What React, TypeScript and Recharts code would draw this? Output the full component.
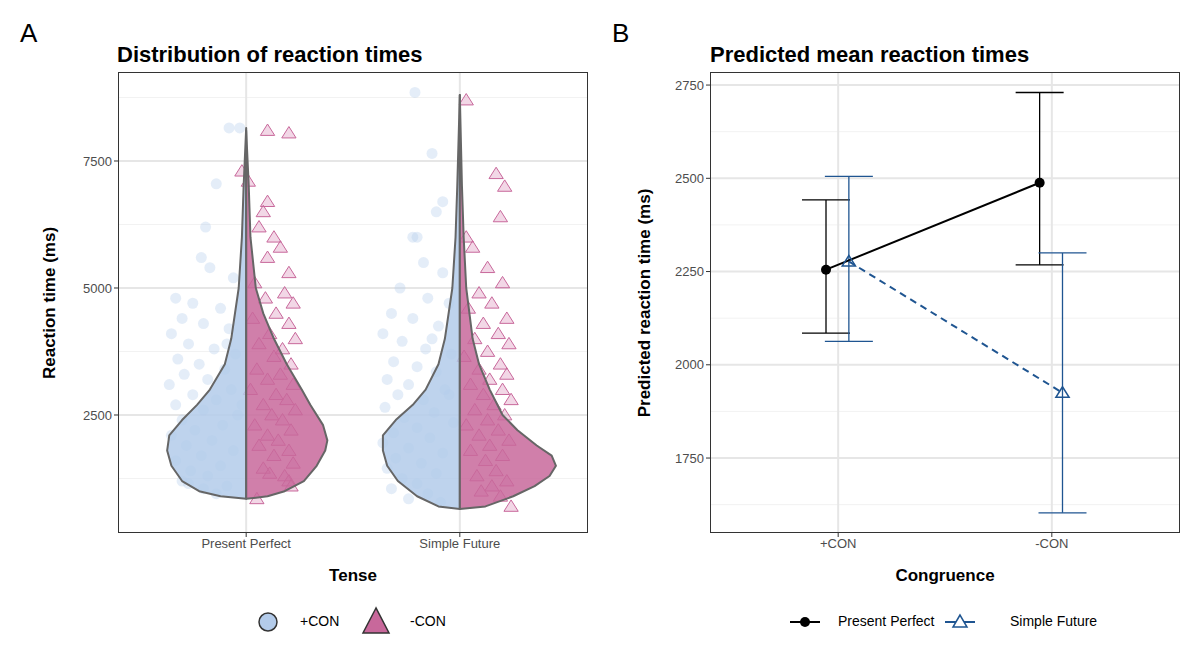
import React from 'react'
import { ComposedChart, Scatter, XAxis, YAxis, ReferenceLine, ErrorBar } from 'recharts'

const tenses = ['Present Perfect', 'Simple Future']
const congruence = ['+CON', '-CON']
const rtTicks = [2500, 5000, 7500]
const rtMinor = [1250, 3750, 6250, 8750]
const predTicks = [1750, 2000, 2250, 2500, 2750]
const predMinor = [1625, 1875, 2125, 2375, 2625]

// violin half-widths (category units) by reaction time
const ppCon = [[850, 0], [900, 0.12], [1000, 0.22], [1200, 0.3], [1500, 0.35], [1800, 0.37], [2100, 0.36], [2400, 0.3], [2700, 0.23], [3000, 0.17], [3500, 0.1], [4000, 0.07], [5000, 0.035], [6000, 0.02], [7000, 0.012], [8150, 0]]
const ppNoCon = [[850, 0], [900, 0.1], [1000, 0.18], [1200, 0.27], [1500, 0.33], [1800, 0.37], [2000, 0.38], [2300, 0.36], [2700, 0.3], [3000, 0.26], [3500, 0.19], [4000, 0.13], [4500, 0.08], [5000, 0.045], [6000, 0.02], [7000, 0.012], [8100, 0]]
const sfCon = [[650, 0], [700, 0.1], [900, 0.2], [1200, 0.29], [1500, 0.34], [1800, 0.36], [2100, 0.36], [2400, 0.3], [2700, 0.22], [3000, 0.16], [3500, 0.1], [4000, 0.07], [5000, 0.035], [6000, 0.02], [7000, 0.012], [8800, 0]]
const sfNoCon = [[650, 0], [700, 0.12], [900, 0.25], [1100, 0.35], [1300, 0.42], [1500, 0.45], [1700, 0.43], [1900, 0.36], [2200, 0.27], [2500, 0.2], [3000, 0.14], [3500, 0.09], [4000, 0.06], [5000, 0.03], [6000, 0.018], [7000, 0.01], [8800, 0]]

// jittered raw points: [offset from tense centre, reaction time]
const ppConPts = [[-0.08, 8150], [-0.03, 8150], [-0.14, 7050], [-0.19, 6200], [-0.21, 5600], [-0.17, 5400], [-0.06, 5200], [-0.33, 4800], [-0.25, 4700], [-0.12, 4600], [-0.3, 4400], [-0.2, 4300], [-0.08, 4200], [-0.35, 4100], [-0.27, 3900], [-0.15, 3800], [-0.05, 3700], [-0.32, 3600], [-0.22, 3500], [-0.1, 3400], [-0.29, 3300], [-0.18, 3200], [-0.36, 3100], [-0.07, 3000], [-0.25, 2900], [-0.14, 2800], [-0.33, 2700], [-0.2, 2600], [-0.04, 2500], [-0.3, 2400], [-0.11, 2300], [-0.24, 2200], [-0.35, 2100], [-0.16, 2000], [-0.28, 1900], [-0.06, 1800], [-0.21, 1700], [-0.33, 1600], [-0.12, 1500], [-0.26, 1400], [-0.18, 1300], [-0.3, 1200], [-0.09, 1100], [-0.2, 1050], [-0.14, 950], [-0.27, 1150], [-0.02, 2700], [-0.09, 3900]]
const ppNoConPts = [[0.1, 8100], [0.2, 8050], [-0.02, 7300], [0.01, 7100], [0.1, 6700], [0.08, 6500], [0.06, 6200], [0.13, 6000], [0.16, 5800], [0.1, 5600], [0.2, 5300], [0.04, 5100], [0.18, 4900], [0.09, 4800], [0.22, 4700], [0.14, 4500], [0.03, 4400], [0.2, 4300], [0.11, 4100], [0.23, 4000], [0.06, 3900], [0.17, 3800], [0.13, 3650], [0.21, 3500], [0.05, 3400], [0.16, 3300], [0.1, 3200], [0.22, 3100], [0.02, 3000], [0.14, 2900], [0.19, 2800], [0.08, 2700], [0.23, 2600], [0.12, 2500], [0.17, 2400], [0.04, 2300], [0.21, 2200], [0.1, 2100], [0.15, 2000], [0.06, 1900], [0.2, 1800], [0.13, 1700], [0.22, 1550], [0.08, 1450], [0.18, 1300], [0.2, 1200], [0.21, 1100], [0.11, 1350], [0.05, 850]]
const sfConPts = [[-0.21, 8850], [-0.13, 7650], [-0.08, 6700], [-0.11, 6500], [-0.22, 6000], [-0.2, 6000], [-0.17, 5500], [-0.08, 5300], [-0.28, 5000], [-0.15, 4800], [-0.05, 4700], [-0.32, 4500], [-0.22, 4400], [-0.1, 4250], [-0.36, 4100], [-0.27, 3950], [-0.16, 3800], [-0.04, 3700], [-0.31, 3550], [-0.2, 3450], [-0.11, 3350], [-0.34, 3200], [-0.24, 3100], [-0.07, 3000], [-0.29, 2900], [-0.17, 2800], [-0.35, 2650], [-0.12, 2550], [-0.26, 2450], [-0.03, 2350], [-0.2, 2250], [-0.31, 2150], [-0.14, 2050], [-0.36, 1950], [-0.24, 1850], [-0.08, 1750], [-0.3, 1650], [-0.18, 1550], [-0.34, 1450], [-0.11, 1350], [-0.27, 1250], [-0.2, 1150], [-0.32, 1050], [-0.15, 950], [-0.24, 850], [-0.09, 780], [-0.05, 2900], [-0.13, 4000]]
const sfNoConPts = [[0.03, 8700], [0.17, 7250], [0.21, 7000], [0.19, 6400], [0.03, 6000], [0.06, 5800], [0.13, 5400], [0.2, 5100], [0.09, 4900], [0.15, 4700], [0.04, 4600], [0.22, 4400], [0.11, 4300], [0.18, 4100], [0.07, 4000], [0.23, 3900], [0.13, 3750], [0.02, 3650], [0.19, 3500], [0.09, 3400], [0.22, 3300], [0.14, 3200], [0.05, 3100], [0.2, 3000], [0.11, 2900], [0.24, 2800], [0.16, 2700], [0.07, 2600], [0.21, 2500], [0.13, 2400], [0.03, 2300], [0.18, 2200], [0.09, 2100], [0.23, 2000], [0.14, 1900], [0.05, 1800], [0.2, 1700], [0.12, 1600], [0.17, 1400], [0.08, 1300], [0.22, 1200], [0.15, 1100], [0.19, 900], [0.24, 700], [0.1, 1000]]

// predicted means with CI
const ppMeans = [2255, 2488]
const ppLower = [2085, 2268]
const ppUpper = [2442, 2730]
const sfMeans = [2277, 1925]
const sfLower = [2063, 1603]
const sfUpper = [2505, 2300]

const BLUE = '#b3cbea'
const PINK = '#c8689b'
const NAVY = '#1f5591'
const FONT = '"Liberation Sans", Arial, sans-serif'

const violin = (centre: number, prof: number[][], side: number) => [
  ...prof.map(([y, w]) => ({ x: centre + side * w, y })),
  ...prof.slice().reverse().map(([y]) => ({ x: centre, y })),
]
const pts = (centre: number, list: number[][]) => list.map(([d, y]) => ({ x: centre + d, y }))

const polyLine = (fill: string) => (p: any) => (
  <polygon
    points={(p.points || []).map((q: any) => `${q.x},${q.y}`).join(' ')}
    fill={fill} fillOpacity={0.85} stroke="#666" strokeWidth={2} strokeLinejoin="round"
  />
)
const Nothing = () => <g />
const circle = (p: any) => <circle cx={p.cx} cy={p.cy} r={5.5} fill={BLUE} fillOpacity={0.35} />
const tri = (fill: string, fo: number, stroke: string, sw: number, s: number) => (p: any) => (
  <polygon
    points={`${p.cx},${p.cy - s} ${p.cx - s * 1.1},${p.cy + s * 0.75} ${p.cx + s * 1.1},${p.cy + s * 0.75}`}
    fill={fill} fillOpacity={fo} stroke={stroke} strokeWidth={sw}
  />
)

const tickStyle = { fill: '#4d4d4d', fontSize: 13, fontFamily: FONT }
const gridLines = (vals: number[], color: string, w: number) =>
  vals.map(v => <ReferenceLine key={v} y={v} stroke={color} strokeWidth={w} />)

const Abs = ({ x, y, children, style }: any) => (
  <div style={{ position: 'absolute', left: x, top: y, whiteSpace: 'nowrap', fontFamily: FONT, ...style }}>{children}</div>
)

export default function App() {
  const ppRows = congruence.map((c, i) => ({ x: i + 1 - 0.057, y: ppMeans[i], err: [ppMeans[i] - ppLower[i], ppUpper[i] - ppMeans[i]] }))
  const sfRows = congruence.map((c, i) => ({ x: i + 1 + 0.05, y: sfMeans[i], err: [sfMeans[i] - sfLower[i], sfUpper[i] - sfMeans[i]] }))
  return (
    <div style={{ position: 'fixed', left: 0, top: 0, width: 1200, height: 652, background: '#fff' }}>
      <Abs x={20} y={18} style={{ fontSize: 26 }}>A</Abs>
      <Abs x={612} y={18} style={{ fontSize: 26 }}>B</Abs>
      <Abs x={117} y={42} style={{ fontSize: 22, fontWeight: 'bold' }}>Distribution of reaction times</Abs>
      <Abs x={710} y={42} style={{ fontSize: 22, fontWeight: 'bold' }}>Predicted mean reaction times</Abs>

      <div style={{ position: 'absolute', left: 0, top: 0 }}>
        <ComposedChart width={600} height={600} margin={{ top: 72, right: 12, bottom: 37, left: 58 }}>
          <XAxis type="number" dataKey="x" domain={[0.4, 2.6]} ticks={[1, 2]} allowDataOverflow
            tickFormatter={(v: number) => tenses[v - 1]} tick={tickStyle} axisLine={false} tickSize={4} stroke="#333" height={30} />
          <YAxis type="number" dataKey="y" domain={[177, 9252]} ticks={rtTicks} allowDataOverflow
            tick={tickStyle} axisLine={false} tickSize={4} stroke="#333" width={60} />
          {gridLines(rtMinor, '#f2f2f2', 1)}
          {gridLines(rtTicks, '#e6e6e6', 2)}
          <ReferenceLine x={1} stroke="#e6e6e6" strokeWidth={2} />
          <ReferenceLine x={2} stroke="#e6e6e6" strokeWidth={2} />
          <Scatter data={pts(1, ppConPts)} shape={circle} isAnimationActive={false} />
          <Scatter data={pts(2, sfConPts)} shape={circle} isAnimationActive={false} />
          <Scatter data={pts(1, ppNoConPts)} shape={tri('#d98cb8', 0.35, '#c8689b', 1, 6.5)} isAnimationActive={false} />
          <Scatter data={pts(2, sfNoConPts)} shape={tri('#d98cb8', 0.35, '#c8689b', 1, 6.5)} isAnimationActive={false} />
          <Scatter data={violin(1, ppCon, -1)} shape={Nothing} line={polyLine(BLUE)} isAnimationActive={false} />
          <Scatter data={violin(1, ppNoCon, 1)} shape={Nothing} line={polyLine(PINK)} isAnimationActive={false} />
          <Scatter data={violin(2, sfCon, -1)} shape={Nothing} line={polyLine(BLUE)} isAnimationActive={false} />
          <Scatter data={violin(2, sfNoCon, 1)} shape={Nothing} line={polyLine(PINK)} isAnimationActive={false} />
        </ComposedChart>
        <div style={{ position: 'absolute', left: 118, top: 72, width: 470, height: 461, border: '1px solid #333', boxSizing: 'border-box' }} />
      </div>

      <div style={{ position: 'absolute', left: 600, top: 0 }}>
        <ComposedChart width={600} height={600} margin={{ top: 72, right: 20, bottom: 37, left: 50 }}>
          <XAxis type="number" dataKey="x" domain={[0.4, 2.6]} ticks={[1, 2]} allowDataOverflow
            tickFormatter={(v: number) => congruence[v - 1]} tick={tickStyle} axisLine={false} tickSize={4} stroke="#333" height={30} />
          <YAxis type="number" dataKey="y" domain={[1549, 2785]} ticks={predTicks} allowDataOverflow
            tick={tickStyle} axisLine={false} tickSize={4} stroke="#333" width={60} />
          {gridLines(predMinor, '#f2f2f2', 1)}
          {gridLines(predTicks, '#e6e6e6', 2)}
          <ReferenceLine x={1} stroke="#e6e6e6" strokeWidth={2} />
          <ReferenceLine x={2} stroke="#e6e6e6" strokeWidth={2} />
          <Scatter data={ppRows} line={{ stroke: '#000', strokeWidth: 2 }}
            shape={(p: any) => <circle cx={p.cx} cy={p.cy} r={5} fill="#000" />} isAnimationActive={false}>
            <ErrorBar dataKey="err" direction="y" width={24} stroke="#000" strokeWidth={1.3} />
          </Scatter>
          <Scatter data={sfRows} line={{ stroke: NAVY, strokeWidth: 2, strokeDasharray: '7 5' }}
            shape={tri('#fff', 0, NAVY, 1.5, 6)} isAnimationActive={false}>
            <ErrorBar dataKey="err" direction="y" width={24} stroke={NAVY} strokeWidth={1.3} />
          </Scatter>
        </ComposedChart>
        <div style={{ position: 'absolute', left: 110, top: 72, width: 470, height: 461, border: '1px solid #333', boxSizing: 'border-box' }} />
      </div>

      <Abs x={353} y={566} style={{ fontSize: 17, fontWeight: 'bold', transform: 'translateX(-50%)' }}>Tense</Abs>
      <Abs x={945} y={566} style={{ fontSize: 17, fontWeight: 'bold', transform: 'translateX(-50%)' }}>Congruence</Abs>
      <Abs x={50} y={303} style={{ fontSize: 17, fontWeight: 'bold', transform: 'translate(-50%,-50%) rotate(-90deg)' }}>Reaction time (ms)</Abs>
      <Abs x={645} y={303} style={{ fontSize: 17, fontWeight: 'bold', transform: 'translate(-50%,-50%) rotate(-90deg)' }}>Predicted reaction time (ms)</Abs>

      <svg style={{ position: 'absolute', left: 0, top: 600 }} width={1200} height={45}>
        <circle cx={268} cy={22} r={9} fill={BLUE} stroke="#333" strokeWidth={1.5} />
        <polygon points="376,8 363,33 389,33" fill={PINK} stroke="#333" strokeWidth={1.5} />
        <line x1={790} y1={22} x2={820} y2={22} stroke="#000" strokeWidth={2} />
        <circle cx={805} cy={22} r={5} fill="#000" />
        <line x1={945} y1={22} x2={975} y2={22} stroke={NAVY} strokeWidth={2} />
        <polygon points="960,15 953,27 967,27" fill="#fff" stroke={NAVY} strokeWidth={1.5} />
      </svg>
      <Abs x={300} y={613} style={{ fontSize: 14 }}>+CON</Abs>
      <Abs x={410} y={613} style={{ fontSize: 14 }}>-CON</Abs>
      <Abs x={838} y={613} style={{ fontSize: 14 }}>Present Perfect</Abs>
      <Abs x={1010} y={613} style={{ fontSize: 14 }}>Simple Future</Abs>
    </div>
  )
}
